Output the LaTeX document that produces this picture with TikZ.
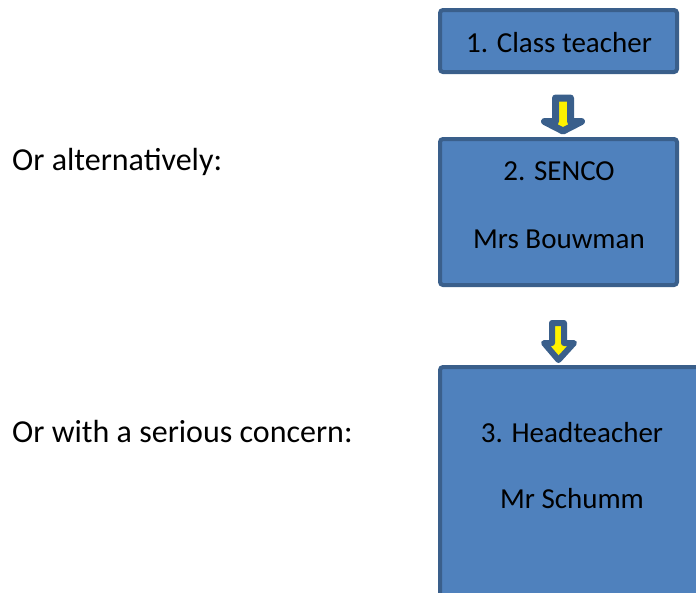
\documentclass[tikz,border=0pt]{standalone}
\usepackage{fontspec}
\setmainfont{Carlito}
\begin{document}
\begin{tikzpicture}[x=1pt,y=-1pt,
  box/.style={draw=boxline,fill=boxfill,line width=4pt,rounded corners=3pt},
  blockarrow/.style={draw=boxline,fill=yellow,line join=round},
  txt/.style={font=\fontsize{29}{34}\selectfont,inner sep=0pt,anchor=base},
  lbl/.style={font=\fontsize{32}{38}\selectfont,inner sep=0pt,anchor=base west}]
\definecolor{boxfill}{HTML}{4F81BD}
\definecolor{boxline}{HTML}{3A5F8B}
\useasboundingbox (0,0) rectangle (696,592);
\clip (0,0) rectangle (696,592);
% boxes
\draw[box] (440,10) rectangle (677,72);
\draw[box] (440,139) rectangle (677,285);
\draw[box] (440,367) rectangle (706,620);
% arrows
\draw[blockarrow,line width=7pt] (555.5,98) -- (570.5,98) -- (570.5,121.5) -- (581.5,121.5) -- (563,131) -- (544.5,121.5) -- (555.5,121.5) -- cycle;
\draw[blockarrow,line width=6pt] (552,323) -- (564,323) -- (564,343) -- (574,343) -- (558.5,360) -- (544,343) -- (552,343) -- cycle;
% texts
\node[txt] (t1) at (559,52) {1. Class teacher};
\node[txt] (t2) at (559,180) {2. SENCO};
\node[txt] (t2b) at (559,248) {Mrs Bouwman};
\node[txt] (t3) at (572,442) {3. Headteacher};
\node[txt] (t3b) at (572,508) {Mr Schumm};
\node[lbl] (l1) at (12,170) {Or alternatively:};
\node[lbl] (l2) at (12,442) {Or with a serious concern:};
\end{tikzpicture}
\end{document}
